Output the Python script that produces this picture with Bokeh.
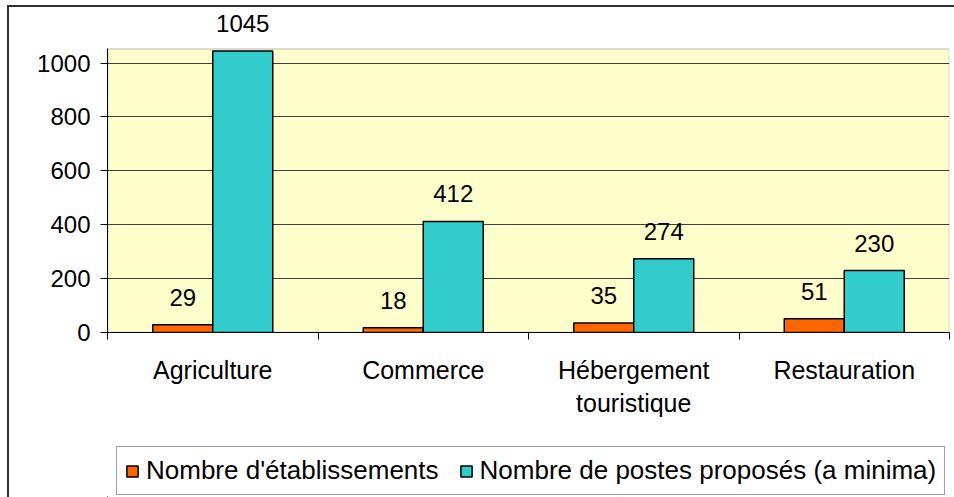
from bokeh.plotting import figure
from bokeh.layouts import column
from bokeh.models import (Range1d, FixedTicker, Legend, LegendItem, ColumnDataSource,
                          LabelSet, BoxAnnotation)
from bokeh.core.properties import value
from bokeh.embed import file_html
from bokeh.resources import INLINE
import numpy as np

categories = ["Agriculture", "Commerce", "Hébergement\ntouristique", "Restauration"]
etablissements = [29, 18, 35, 51]
postes = [1045, 412, 274, 230]
series_names = ["Nombre d'établissements", "Nombre de postes proposés (a minima)"]
y_ticks = [0, 200, 400, 600, 800, 1000]

FONT = "Liberation Sans"
ORANGE = "#FF6600"
TEAL = "#33CCCC"
AREA_TOP = 1052      # top of the yellow plot area (value units)
Y_END = 1180         # room above the plot area for the value labels

idx = np.arange(len(categories))
centers = idx + 0.5
bw = 0.285

src1 = ColumnDataSource(dict(x=centers - bw / 2, y=etablissements, t=[str(v) for v in etablissements]))
src2 = ColumnDataSource(dict(x=centers + bw / 2, y=postes, t=[str(v) for v in postes]))

p = figure(width=945, height=433, output_backend="svg", toolbar_location=None,
           x_range=Range1d(0, 4), y_range=Range1d(0, Y_END),
           min_border_left=98, min_border_right=5, min_border_top=7, min_border_bottom=108)
p.background_fill_color = "white"
p.border_fill_color = "white"
p.outline_line_color = None

area = BoxAnnotation(bottom=0, top=AREA_TOP, left=0, right=4, fill_color="#FFFFCC", fill_alpha=1,
                     line_color="#888888", line_width=2, level="image")
p.add_layout(area)

r1 = p.vbar(x="x", top="y", width=bw, source=src1, fill_color=ORANGE, line_color="black", line_width=1.5)
r2 = p.vbar(x="x", top="y", width=bw, source=src2, fill_color=TEAL, line_color="black", line_width=1.5)

for s in (src1, src2):
    lbl = LabelSet(x="x", y="y", text="t", source=s, y_offset=19, text_align="center",
                   text_baseline="alphabetic", text_font=value(FONT), text_font_size="24px",
                   text_color="black")
    p.add_layout(lbl)

p.xgrid.grid_line_color = None
p.ygrid.grid_line_color = "#404040"
p.ygrid.grid_line_width = 1
p.ygrid.ticker = FixedTicker(ticks=y_ticks)

xa = p.xaxis[0]
xa.ticker = FixedTicker(ticks=list(centers), minor_ticks=list(range(len(categories) + 1)))
xa.major_label_overrides = {float(c): n for c, n in zip(centers, categories)}
xa.major_tick_out = 0
xa.major_tick_in = 0
xa.minor_tick_out = 7
xa.minor_tick_in = 0
xa.minor_tick_line_color = "black"
xa.axis_line_color = "black"
xa.major_label_text_font = FONT
xa.major_label_text_font_size = "25px"
xa.major_label_text_color = "black"
xa.major_label_standoff = 16

ya = p.yaxis[0]
ya.ticker = FixedTicker(ticks=y_ticks)
ya.bounds = (0, AREA_TOP)
ya.major_tick_out = 7
ya.major_tick_in = 0
ya.minor_tick_line_color = None
ya.major_tick_line_color = "black"
ya.axis_line_color = "black"
ya.major_label_text_font = FONT
ya.major_label_text_font_size = "24px"
ya.major_label_text_color = "black"
ya.major_label_standoff = 10

# legend strip: same series, kept out of view, only their legend entries show
q = figure(width=945, height=57, output_backend="svg", toolbar_location=None,
           x_range=Range1d(100, 101), y_range=Range1d(5000, 6000),
           x_axis_type=None, y_axis_type=None, min_border=0)
q.grid.grid_line_color = None
q.outline_line_color = None
q.background_fill_color = "white"
q.border_fill_color = "white"
d1 = q.vbar(x="x", top="y", width=bw, source=src1, fill_color=ORANGE, line_color="black", line_width=1.5)
d2 = q.vbar(x="x", top="y", width=bw, source=src2, fill_color=TEAL, line_color="black", line_width=1.5)

legend = Legend(items=[LegendItem(label=series_names[0], renderers=[d1]),
                       LegendItem(label=series_names[1], renderers=[d2])],
                orientation="horizontal", location=(9, 2))
legend.label_text_font = FONT
legend.label_text_font_size = "26px"
legend.label_text_color = "black"
legend.glyph_width = 14
legend.glyph_height = 14
legend.label_standoff = 7
legend.spacing = 20
legend.padding = 8
legend.margin = 0
legend.border_line_color = "#404040"
legend.border_line_width = 1
legend.background_fill_color = "white"
legend.background_fill_alpha = 1
q.add_layout(legend, "center")

layout = column(p, q, spacing=0,
                styles={"border-left": "2px solid #303030", "border-top": "2px solid #303030",
                        "margin-left": "7px", "margin-top": "5px"})

open("out.html", "w").write(file_html(layout, INLINE))
